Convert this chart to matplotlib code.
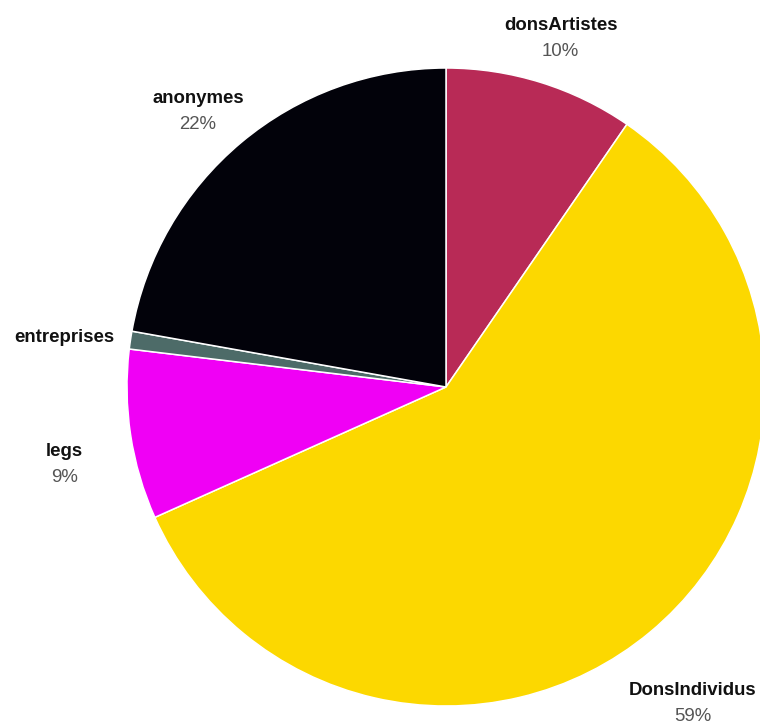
import numpy as np
import matplotlib
matplotlib.use("Agg")
import matplotlib.pyplot as plt

categories = ["donsArtistes", "DonsIndividus", "legs", "entreprises", "anonymes"]
shares = [9.6, 58.7, 8.6, 0.9, 22.2]
colors = ["#b82a56", "#fcd800", "#f000f5", "#4d6b68", "#02020a"]

W, H = 760, 728
fig = plt.figure(figsize=(W / 100, H / 100), dpi=100)
ax = fig.add_axes([0, 0, 1, 1])

cx, cy, R = 446, H - 387, 319
wedges, _ = ax.pie(
    shares, colors=colors, startangle=90, counterclock=False,
    center=(cx, cy), radius=R, frame=True,
    wedgeprops=dict(edgecolor="white", linewidth=1.1),
)
ax.set_xlim(0, W)
ax.set_ylim(0, H)
ax.set_aspect("equal")
ax.axis("off")

total = sum(shares)
label_r = 1.21 * R
for w, name, v in zip(wedges, categories, shares):
    mid = np.deg2rad((w.theta1 + w.theta2) / 2)
    lx = cx + label_r * np.cos(mid)
    ly = cy + label_r * np.sin(mid) - 7
    ax.text(lx, ly, name, ha="center", va="center", fontsize=13.4,
            fontweight="bold", family="Liberation Sans", color="#111111")
    pct = 100 * v / total
    if pct >= 1:
        ax.text(lx, ly - 26, f"{round(pct)}%", ha="center", va="center",
                fontsize=13.4, family="Liberation Sans", color="#555555")

fig.savefig("out.png", dpi=100)
